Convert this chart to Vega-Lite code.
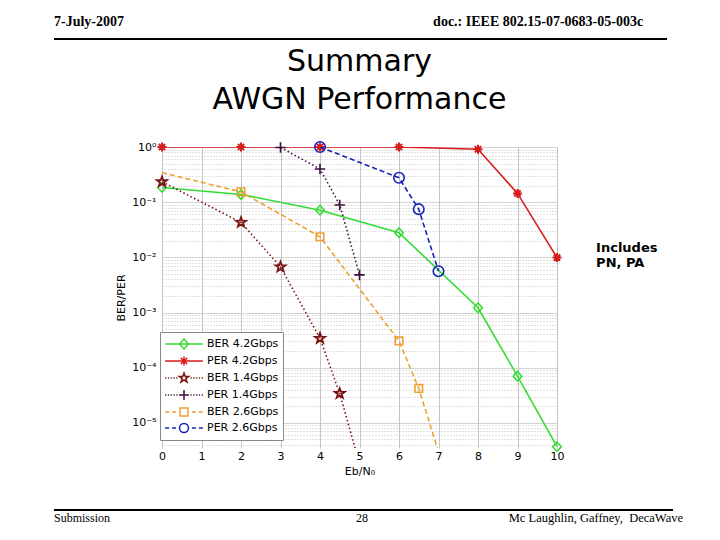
{
  "$schema": "https://vega.github.io/schema/vega-lite/v6.json",
  "description": "Summary AWGN performance, BER/PER against Eb/N0",
  "autosize": {"type": "none"},
  "width": 395,
  "height": 301,
  "padding": {"left": 162, "top": 147, "right": 163, "bottom": 92},
  "background": "white",
  "config": {
    "view": {"stroke": null},
    "axis": {"labelOverlap": false},
    "axisX": {"labelOverlap": false, "tickCount": 11, "labelFlush": false}
  },
  "data": {
    "values": [
      {"series": "BER 4.2Gbps", "ebno": 0, "err": 0.185},
      {"series": "BER 4.2Gbps", "ebno": 2, "err": 0.138},
      {"series": "BER 4.2Gbps", "ebno": 4, "err": 0.0716},
      {"series": "BER 4.2Gbps", "ebno": 6, "err": 0.028},
      {"series": "BER 4.2Gbps", "ebno": 8, "err": 0.00122},
      {"series": "BER 4.2Gbps", "ebno": 9, "err": 0.00007},
      {"series": "BER 4.2Gbps", "ebno": 10, "err": 0.0000037},
      {"series": "PER 4.2Gbps", "ebno": 0, "err": 1},
      {"series": "PER 4.2Gbps", "ebno": 2, "err": 1},
      {"series": "PER 4.2Gbps", "ebno": 4, "err": 1},
      {"series": "PER 4.2Gbps", "ebno": 6, "err": 1},
      {"series": "PER 4.2Gbps", "ebno": 8, "err": 0.91},
      {"series": "PER 4.2Gbps", "ebno": 9, "err": 0.144},
      {"series": "PER 4.2Gbps", "ebno": 10, "err": 0.0099},
      {"series": "BER 1.4Gbps", "ebno": 0, "err": 0.234},
      {"series": "BER 1.4Gbps", "ebno": 2, "err": 0.043},
      {"series": "BER 1.4Gbps", "ebno": 3, "err": 0.0067},
      {"series": "BER 1.4Gbps", "ebno": 4, "err": 0.00034},
      {"series": "BER 1.4Gbps", "ebno": 4.5, "err": 0.000034},
      {"series": "BER 1.4Gbps", "ebno": 5, "err": 0.0000018},
      {"series": "PER 1.4Gbps", "ebno": 3, "err": 0.98},
      {"series": "PER 1.4Gbps", "ebno": 4, "err": 0.4},
      {"series": "PER 1.4Gbps", "ebno": 4.5, "err": 0.089},
      {"series": "PER 1.4Gbps", "ebno": 5, "err": 0.0048},
      {"series": "BER 2.6Gbps", "ebno": 0, "err": 0.342},
      {"series": "BER 2.6Gbps", "ebno": 2, "err": 0.154},
      {"series": "BER 2.6Gbps", "ebno": 4, "err": 0.0236},
      {"series": "BER 2.6Gbps", "ebno": 6, "err": 0.000305},
      {"series": "BER 2.6Gbps", "ebno": 6.5, "err": 0.000042},
      {"series": "BER 2.6Gbps", "ebno": 7, "err": 0.000003},
      {"series": "PER 2.6Gbps", "ebno": 4, "err": 1},
      {"series": "PER 2.6Gbps", "ebno": 6, "err": 0.277},
      {"series": "PER 2.6Gbps", "ebno": 6.5, "err": 0.0747},
      {"series": "PER 2.6Gbps", "ebno": 7, "err": 0.0056}
    ]
  },
  "layer": [
    {
      "encoding": {
        "x": {
          "field": "ebno", "type": "quantitative",
          "scale": {"domain": [0, 10], "nice": false, "zero": false},
          "axis": {
            "values": [0, 1, 2, 3, 4, 5, 6, 7, 8, 9, 10],
            "tickCount": 11,
            "title": "Eb/N₀",
            "titleFont": "DejaVu Sans", "titleFontSize": 11, "titleFontWeight": "normal", "titleColor": "black",
            "titlePadding": 4,
            "labelFont": "DejaVu Sans", "labelFontSize": 11, "labelColor": "black",
            "labelPadding": 2, "labelFlush": false, "labelOverlap": false,
            "ticks": false, "domain": false,
            "grid": true, "gridColor": "#c4c4c4"
          }
        },
        "y": {
          "field": "err", "type": "quantitative",
          "scale": {"type": "log", "domain": [0.0000035, 1], "nice": false},
          "axis": {
            "values": [0.000004, 0.000005, 0.000006, 0.000007, 0.000008, 0.000009,
                       0.00001, 0.00002, 0.00003, 0.00004, 0.00005, 0.00006, 0.00007, 0.00008, 0.00009,
                       0.0001, 0.0002, 0.0003, 0.0004, 0.0005, 0.0006, 0.0007, 0.0008, 0.0009,
                       0.001, 0.002, 0.003, 0.004, 0.005, 0.006, 0.007, 0.008, 0.009,
                       0.01, 0.02, 0.03, 0.04, 0.05, 0.06, 0.07, 0.08, 0.09,
                       0.1, 0.2, 0.3, 0.4, 0.5, 0.6, 0.7, 0.8, 0.9, 1],
            "labelExpr": "abs(log(datum.value)/LN10 - round(log(datum.value)/LN10)) < 0.001 ? '10' + ['⁰','⁻¹','⁻²','⁻³','⁻⁴','⁻⁵','⁻⁶'][-round(log(datum.value)/LN10)] : ''",
            "labelOverlap": false, "labelFlush": false,
            "title": "BER/PER",
            "titleFont": "DejaVu Sans", "titleFontSize": 11, "titleFontWeight": "normal", "titleColor": "black",
            "titlePadding": 5,
            "labelFont": "DejaVu Sans", "labelFontSize": 11, "labelColor": "black", "labelPadding": 6,
            "ticks": false, "domain": false,
            "grid": true, "gridColor": "#c4c4c4",
            "gridDash": {
              "condition": {"test": "abs(log(datum.value)/LN10 - round(log(datum.value)/LN10)) < 0.001", "value": [1, 0]},
              "value": [1, 2]
            }
          }
        }
      },
      "layer": [
        {
          "transform": [{"filter": "datum.series == 'BER 4.2Gbps'"}],
          "layer": [
            {"mark": {"type": "line", "clip": true, "strokeWidth": 1.6, "color": "#33dd33"}},
            {"transform": [{"filter": "datum.err >= 0.0000035"}],
             "mark": {"type": "point", "shape": "M0,-1L0.9,0L0,1L-0.9,0Z", "filled": false, "size": 90, "strokeWidth": 1.6, "color": "#33dd33", "opacity": 1}}
          ]
        },
        {
          "transform": [{"filter": "datum.series == 'PER 4.2Gbps'"}],
          "layer": [
            {"mark": {"type": "line", "clip": true, "strokeWidth": 1.6, "color": "#d81c1c"}},
            {"transform": [{"filter": "datum.err >= 0.0000035"}],
             "mark": {"type": "point", "shape": "M0,-1V1M-1,0H1M-0.7,-0.7L0.7,0.7M-0.7,0.7L0.7,-0.7", "filled": false, "size": 80, "strokeWidth": 2, "color": "#d81c1c", "opacity": 1}}
          ]
        },
        {
          "transform": [{"filter": "datum.series == 'BER 1.4Gbps'"}],
          "layer": [
            {"mark": {"type": "line", "clip": true, "strokeWidth": 1.6, "color": "#7b1111", "strokeDash": [1.5, 2.5]}},
            {"transform": [{"filter": "datum.err >= 0.0000035"}],
             "mark": {"type": "point", "shape": "M0,-1L0.235,-0.324L0.951,-0.309L0.38,0.124L0.588,0.809L0,0.4L-0.588,0.809L-0.38,0.124L-0.951,-0.309L-0.235,-0.324Z", "filled": false, "size": 110, "strokeWidth": 1.8, "color": "#7b1111", "opacity": 1}}
          ]
        },
        {
          "transform": [{"filter": "datum.series == 'PER 1.4Gbps'"}],
          "layer": [
            {"mark": {"type": "line", "clip": true, "strokeWidth": 1.6, "color": "#3b0f3f", "strokeDash": [1.5, 2.5]}},
            {"transform": [{"filter": "datum.err >= 0.0000035"}],
             "mark": {"type": "point", "shape": "M0,-1V1M-1,0H1", "filled": false, "size": 110, "strokeWidth": 1.6, "color": "#3b0f3f", "opacity": 1}}
          ]
        },
        {
          "transform": [{"filter": "datum.series == 'BER 2.6Gbps'"}],
          "layer": [
            {"mark": {"type": "line", "clip": true, "strokeWidth": 1.6, "color": "#f0a030", "strokeDash": [5, 3]}},
            {"transform": [{"filter": "datum.err >= 0.0000035 && datum.ebno > 0"}],
             "mark": {"type": "point", "shape": "M-0.8,-0.8H0.8V0.8H-0.8Z", "filled": false, "size": 90, "strokeWidth": 1.6, "color": "#f0a030", "opacity": 1}}
          ]
        },
        {
          "transform": [{"filter": "datum.series == 'PER 2.6Gbps'"}],
          "layer": [
            {"mark": {"type": "line", "clip": true, "strokeWidth": 1.6, "color": "#1424b4", "strokeDash": [5, 3]}},
            {"transform": [{"filter": "datum.err >= 0.0000035"}],
             "mark": {"type": "point", "shape": "circle", "filled": false, "size": 110, "strokeWidth": 1.6, "color": "#1424b4", "opacity": 1}}
          ]
        },
        {
          "transform": [{"filter": "datum.err > 1"}],
          "mark": {"type": "point", "filled": false, "size": 196, "strokeWidth": 1.5, "opacity": 1},
          "encoding": {
            "color": {
              "field": "series", "type": "nominal",
              "scale": {
                "domain": ["BER 4.2Gbps", "PER 4.2Gbps", "BER 1.4Gbps", "PER 1.4Gbps", "BER 2.6Gbps", "PER 2.6Gbps"],
                "range": ["#33dd33", "#d81c1c", "#7b1111", "#3b0f3f", "#f0a030", "#1424b4"]
              },
              "legend": {
                "title": null,
                "orient": "none", "legendX": -2, "legendY": 185,
                "padding": 4, "fillColor": "white", "strokeColor": "#888888",
                "labelFont": "DejaVu Sans", "labelFontSize": 11, "labelColor": "black", "labelLimit": 200,
                "symbolSize": 196, "symbolStrokeWidth": 1.5, "symbolOffset": 12, "labelOffset": 15,
                "rowPadding": 1
              }
            },
            "shape": {
              "field": "series", "type": "nominal",
              "scale": {
                "domain": ["BER 4.2Gbps", "PER 4.2Gbps", "BER 1.4Gbps", "PER 1.4Gbps", "BER 2.6Gbps", "PER 2.6Gbps"],
                "range": [
                  "M-2.7,0H2.7M0,-0.71L0.64,0L0,0.71L-0.64,0Z",
                  "M-2.7,0H2.7M0,-0.64V0.64M-0.45,-0.45L0.45,0.45M-0.45,0.45L0.45,-0.45",
                  "M-2.7,0H-2.53M-2.3,0H-2.13M-1.9,0H-1.73M-1.5,0H-1.33M-1.1,0H-0.93M0.93,0H1.1M1.33,0H1.5M1.73,0H1.9M2.13,0H2.3M2.53,0H2.7M0,-0.71L0.168,-0.23L0.676,-0.22L0.27,0.088L0.418,0.575L0,0.284L-0.418,0.575L-0.27,0.088L-0.676,-0.22L-0.168,-0.23Z",
                  "M-2.7,0H-2.53M-2.3,0H-2.13M-1.9,0H-1.73M-1.5,0H-1.33M-1.1,0H-0.93M0.93,0H1.1M1.33,0H1.5M1.73,0H1.9M2.13,0H2.3M2.53,0H2.7M0,-0.71V0.71M-0.71,0H0.71",
                  "M-2.7,0H-2.13M-1.7,0H-1.13M1.13,0H1.7M2.13,0H2.7M-0.57,-0.57H0.57V0.57H-0.57Z",
                  "M-2.7,0H-2.13M-1.7,0H-1.13M1.13,0H1.7M2.13,0H2.7M0.64,0A0.64,0.64 0 1,1 -0.64,0A0.64,0.64 0 1,1 0.64,0Z"
                ]
              },
              "legend": {
                "title": null,
                "orient": "none", "legendX": -2, "legendY": 185,
                "padding": 4, "fillColor": "white", "strokeColor": "#888888",
                "labelFont": "DejaVu Sans", "labelFontSize": 11, "labelColor": "black", "labelLimit": 200,
                "symbolSize": 196, "symbolStrokeWidth": 1.5, "symbolOffset": 12, "labelOffset": 15,
                "rowPadding": 1
              }
            }
          }
        }
      ]
    },
    {
      "data": {"values": [{"line": "header"}]},
      "mark": {"type": "rule", "color": "black", "strokeWidth": 2},
      "encoding": {
        "x": {"datum": -2.734},
        "x2": {"datum": 12.785},
        "y": {"datum": 90.7}
      }
    },
    {
      "data": {"values": [{"line": "footer"}]},
      "mark": {"type": "rule", "color": "black", "strokeWidth": 2},
      "encoding": {
        "x": {"datum": -2.734},
        "x2": {"datum": 12.937},
        "y": {"datum": 0.000000263}
      }
    },
    {
      "data": {"values": [{"label": "Summary\nAWGN Performance"}]},
      "mark": {"type": "text", "align": "center", "baseline": "alphabetic", "font": "DejaVu Sans", "fontSize": 30, "lineBreak": "\n", "lineHeight": 38, "color": "black"},
      "encoding": {
        "text": {"field": "label"},
        "x": {"datum": 5},
        "y": {"datum": 23.85}
      }
    },
    {
      "data": {"values": [{"label": "7-July-2007"}]},
      "mark": {"type": "text", "align": "left", "baseline": "alphabetic", "font": "Liberation Serif", "fontSize": 14, "fontWeight": "bold", "color": "black"},
      "encoding": {
        "text": {"field": "label"},
        "x": {"datum": -2.734},
        "y": {"datum": 156}
      }
    },
    {
      "data": {"values": [{"label": "doc.: IEEE 802.15-07-0683-05-003c"}]},
      "mark": {"type": "text", "align": "right", "baseline": "alphabetic", "font": "Liberation Serif", "fontSize": 14, "fontWeight": "bold", "color": "black"},
      "encoding": {
        "text": {"field": "label"},
        "x": {"datum": 12.18},
        "y": {"datum": 156}
      }
    },
    {
      "data": {"values": [{"label": "Includes\nPN, PA"}]},
      "mark": {"type": "text", "align": "left", "baseline": "alphabetic", "font": "DejaVu Sans", "fontSize": 13, "fontWeight": "bold", "lineBreak": "\n", "lineHeight": 15, "color": "black"},
      "encoding": {
        "text": {"field": "label"},
        "x": {"datum": 10.99},
        "y": {"datum": 0.0125}
      }
    },
    {
      "data": {"values": [{"label": "Submission"}]},
      "mark": {"type": "text", "align": "left", "baseline": "alphabetic", "font": "Liberation Serif", "fontSize": 12, "color": "black"},
      "encoding": {
        "text": {"field": "label"},
        "x": {"datum": -2.734},
        "y": {"datum": 0.00000016}
      }
    },
    {
      "data": {"values": [{"label": "28"}]},
      "mark": {"type": "text", "align": "center", "baseline": "alphabetic", "font": "Liberation Serif", "fontSize": 12, "color": "black"},
      "encoding": {
        "text": {"field": "label"},
        "x": {"datum": 5.063},
        "y": {"datum": 0.00000016}
      }
    },
    {
      "data": {"values": [{"label": "Mc Laughlin, Gaffney, \u00a0DecaWave"}]},
      "mark": {"type": "text", "align": "right", "baseline": "alphabetic", "font": "Liberation Serif", "fontSize": 12.5, "color": "black"},
      "encoding": {
        "text": {"field": "label"},
        "x": {"datum": 13.19},
        "y": {"datum": 0.00000016}
      }
    }
  ]
}
